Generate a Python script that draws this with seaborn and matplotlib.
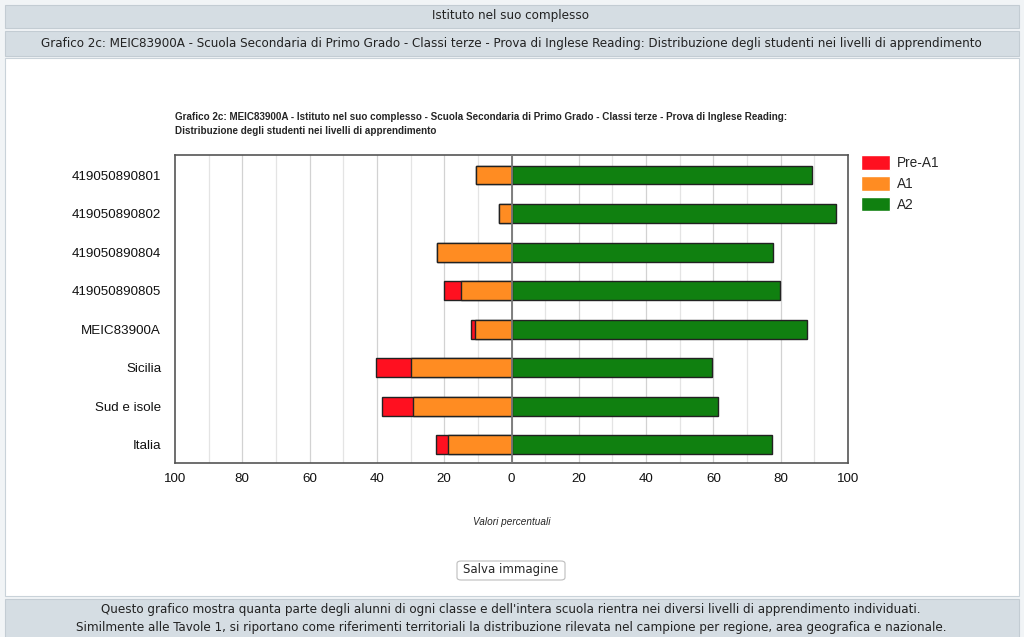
import pandas as pd
import matplotlib
matplotlib.use("Agg")
import matplotlib.pyplot as plt
from matplotlib.patches import Rectangle, FancyBboxPatch, Patch
import seaborn as sns

# values (percent of students)
categories = ["419050890801", "419050890802", "419050890804", "419050890805",
              "MEIC83900A", "Sicilia", "Sud e isole", "Italia"]
pre_a1 = [0.0, 0.0, 0.0, 5.0, 1.0, 10.4, 9.0, 3.6]
a1 = [10.6, 3.7, 22.1, 15.1, 10.9, 29.8, 29.4, 18.8]
a2 = [89.2, 96.3, 77.8, 79.9, 87.9, 59.5, 61.4, 77.3]

tick_vals = [-100, -80, -60, -40, -20, 0, 20, 40, 60, 80, 100]
tick_labels = ["100", "80", "60", "40", "20", "0", "20", "40", "60", "80", "100"]

df = pd.DataFrame({"cat": categories, "pre": pre_a1, "a1": a1, "a2": a2})
df["left_total"] = -(df["pre"] + df["a1"])
df["left_a1"] = -df["a1"]

sns.set_style("white")
plt.rcParams["font.family"] = ["Liberation Sans", "DejaVu Sans"]
W, H = 1024, 637
fig = plt.figure(figsize=(W / 100, H / 100), dpi=100)
fig.patch.set_facecolor("#f1f4f6")

band = "#d5dde3"
def px_rect(x0, y0, x1, y1, **kw):
    fig.patches.append(Rectangle((x0 / W, 1 - y1 / H), (x1 - x0) / W, (y1 - y0) / H,
                                 transform=fig.transFigure, figure=fig, zorder=-5, **kw))

# page bands
px_rect(5, 5, 1019, 28, facecolor=band, edgecolor="#c3ccd3", lw=0.8)
px_rect(5, 31, 1019, 56, facecolor=band, edgecolor="#c3ccd3", lw=0.8)
px_rect(5, 58, 1019, 596, facecolor="white", edgecolor="#c9d2d9", lw=0.8)
px_rect(5, 599, 1019, 640, facecolor=band, edgecolor="#c3ccd3", lw=0.8)

hdr = dict(ha="center", va="center", fontsize=9.5, family=["DejaVu Sans"],
           stretch="condensed", color="#222222")
fig.text(511 / W, 1 - 16 / H, "Istituto nel suo complesso", **hdr)
fig.text(511 / W, 1 - 43 / H,
         "Grafico 2c: MEIC83900A - Scuola Secondaria di Primo Grado - Classi terze - "
         "Prova di Inglese Reading: Distribuzione degli studenti nei livelli di apprendimento", **hdr)
fig.text(511 / W, 1 - 609 / H,
         "Questo grafico mostra quanta parte degli alunni di ogni classe e dell'intera scuola "
         "rientra nei diversi livelli di apprendimento individuati.", **hdr)
fig.text(511 / W, 1 - 628 / H,
         "Similmente alle Tavole 1, si riportano come riferimenti territoriali la distribuzione "
         "rilevata nel campione per regione, area geografica e nazionale.", **hdr)

# chart title
fig.text(175 / W, 1 - 124 / H,
         "Grafico 2c: MEIC83900A - Istituto nel suo complesso - Scuola Secondaria di Primo Grado - "
         "Classi terze - Prova di Inglese Reading:\nDistribuzione degli studenti nei livelli di apprendimento",
         ha="left", va="center", fontsize=7.15, fontweight="bold", linespacing=1.5)

ax = fig.add_axes([175 / W, 1 - 463 / H, (848 - 175) / W, (463 - 155) / H])

kw = dict(y="cat", orient="h", width=0.49, edgecolor="#222222", linewidth=1.0, ax=ax)
sns.barplot(data=df, x="left_total", color="#ff1020", saturation=1, **kw)
sns.barplot(data=df, x="left_a1", color="#ff8c22", saturation=1, **kw)
sns.barplot(data=df, x="a2", color="#108010", saturation=1, **kw)

ax.set_xlim(-100, 100)
ax.set_ylim(7.47, -0.52)
for v in range(-90, 100, 10):
    ax.axvline(v, color="#e4e4e4" if v % 20 else "#d2d2d2", lw=0.9, zorder=0)
ax.axvline(0, color="#777777", lw=1.3, zorder=5)
ax.set_xticks(tick_vals)
ax.set_xticklabels(tick_labels)
ax.tick_params(axis="both", labelsize=9.6, length=0, pad=7, labelcolor="#111111")
ax.tick_params(axis="y", pad=10)
ax.set_ylabel("")
ax.set_xlabel("Valori percentuali", fontsize=7.2, style="italic", labelpad=23)
for s in ax.spines.values():
    s.set_color("#555555")
    s.set_linewidth(1.2)

# legend
handles = [Patch(facecolor="#ff1020", label="Pre-A1"),
           Patch(facecolor="#ff8c22", label="A1"),
           Patch(facecolor="#108010", label="A2")]
fig.legend(handles=handles, loc="upper left", bbox_to_anchor=(849 / W, 1 - 143 / H),
           frameon=False, handlelength=2.1, handleheight=1.3,
           labelspacing=0.42, handletextpad=0.55, prop={"size": 9.8})

# save button
fig.patches.append(FancyBboxPatch((457 / W, 1 - 580 / H), 108 / W, 19 / H,
                                  boxstyle="round,pad=0,rounding_size=0.004",
                                  transform=fig.transFigure, figure=fig,
                                  facecolor="white", edgecolor="#bdbdbd", lw=0.8))
fig.text(511 / W, 1 - 570 / H, "Salva immagine", ha="center", va="center", fontsize=8.5,
         family=["DejaVu Sans"])

fig.savefig("out.png", dpi=100, facecolor=fig.get_facecolor())
